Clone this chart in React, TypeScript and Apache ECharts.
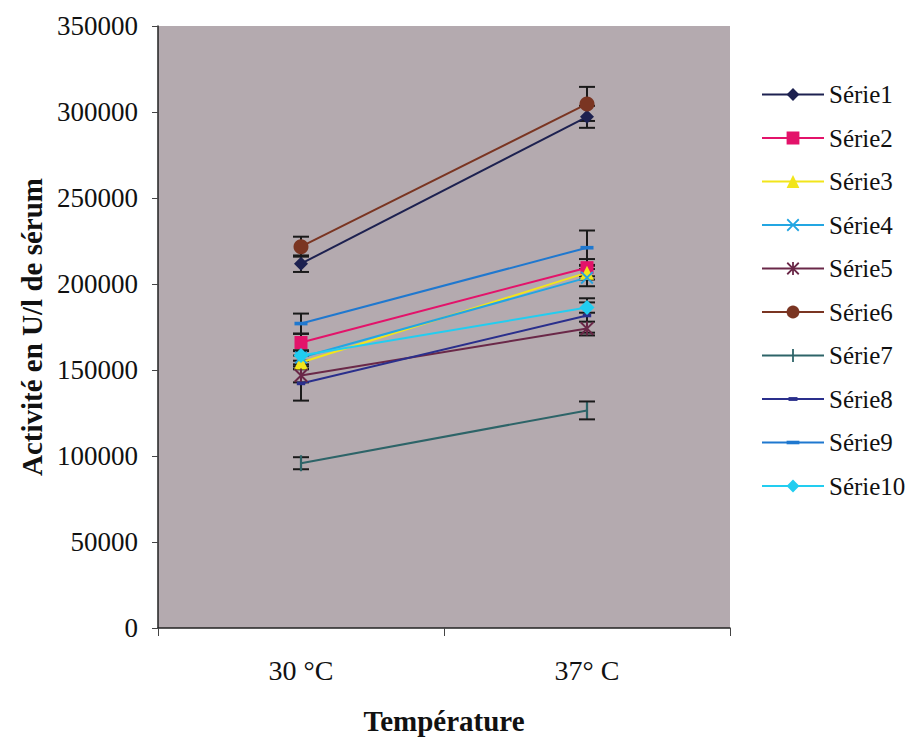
import React, { useEffect, useRef } from "react";
import * as echarts from "echarts";

const categories = ["30 °C", "37° C"];
const seriesNames = ["Série1", "Série2", "Série3", "Série4", "Série5", "Série6", "Série7", "Série8", "Série9", "Série10"];
const s1 = [211800, 297200];
const s2 = [166000, 209500];
const s3 = [154400, 206600];
const s4 = [157300, 203700];
const s5 = [146800, 174100];
const s6 = [221700, 304700];
const s7 = [95800, 126500];
const s8 = [142200, 181700];
const s9 = [177000, 221100];
const s10 = [158400, 186300];
const seriesValues = [s1, s2, s3, s4, s5, s6, s7, s8, s9, s10];
// error bar half-widths (±) at each temperature
const e1 = [4800, 6400];
const e2 = [5000, 5000];
const e3 = [4000, 4000];
const e4 = [4000, 5000];
const e5 = [4000, 4000];
const e6 = [5800, 9900];
const e7 = [3500, 5200];
const e8 = [10000, 10000];
const e9 = [5800, 10000];
const e10 = [3000, 3000];
const seriesErrors = [e1, e2, e3, e4, e5, e6, e7, e8, e9, e10];
const yTicks = { min: 0, max: 350000, interval: 50000 };

const colors = ["#1d2150", "#e3136a", "#f2e51b", "#23a6e2", "#6a2848", "#7a3522", "#2d6468", "#2a2f8c", "#1f78cf", "#22cdf0"];
const X_PATH = "path://M1,0 L5,4 L9,0 L10,1 L6,5 L10,9 L9,10 L5,6 L1,10 L0,9 L4,5 L0,1 Z";
const AST_PATH = "path://M1,0 L5,4 L9,0 L10,1 L6,5 L10,9 L9,10 L5,6 L1,10 L0,9 L4,5 L0,1 Z M4.3,0 L5.7,0 L5.7,10 L4.3,10 Z";
// square bounding boxes (via move-to points) so the mark keeps its shape in chart and legend
const VBAR_PATH = "path://M0,0 M10,10 M4.3,0 L5.7,0 L5.7,10 L4.3,10 Z";
const SHORT_DASH = "path://M0,0 M10,10 M1.5,3.5 L8.5,3.5 L8.5,6.5 L1.5,6.5 Z";
const LONG_DASH = "path://M0,0 M10,10 M0,3.6 L10,3.6 L10,6.4 L0,6.4 Z";
const symbols: any[] = ["diamond", "rect", "triangle", X_PATH, AST_PATH, "circle", VBAR_PATH, SHORT_DASH, LONG_DASH, "diamond"];
const symbolSizes: any[] = [14, 13, 14, 13, 14, 15, 16, 12, 13, 15];

const FONT = "Liberation Serif";

export default function App() {
  const ref = useRef<HTMLDivElement>(null);
  useEffect(() => {
    if (!ref.current) return;
    const chart = echarts.init(ref.current, undefined, { renderer: "svg" });

    const errData: any[] = [];
    seriesValues.forEach((vals, si) => {
      vals.forEach((v, ci) => {
        errData.push([ci, v - seriesErrors[si][ci], v + seriesErrors[si][ci]]);
      });
    });

    const lineSeries = seriesNames.map((name, i) => ({
      name,
      type: "line",
      data: seriesValues[i],
      symbol: symbols[i],
      symbolSize: symbolSizes[i],
      showSymbol: true,
      z: 3,
      lineStyle: { color: colors[i], width: 2 },
      itemStyle: { color: colors[i], borderWidth: 0 },
      emphasis: { disabled: true },
    }));

    chart.setOption({
      animation: false,
      backgroundColor: "#ffffff",
      grid: {
        left: 158,
        top: 26,
        right: 176,
        bottom: 114,
        show: true,
        backgroundColor: "#b4aaaf",
        borderWidth: 0,
      },
      legend: {
        data: seriesNames,
        orient: "vertical",
        left: 756,
        top: 77,
        itemWidth: 62,
        itemHeight: 16,
        itemGap: 18.5,
        textStyle: { fontFamily: FONT, fontSize: 25, color: "#111" },
        selectedMode: false,
      },
      xAxis: {
        type: "category",
        data: categories,
        boundaryGap: true,
        name: "Température",
        nameLocation: "middle",
        nameGap: 78,
        nameTextStyle: { fontFamily: FONT, fontSize: 29, fontWeight: "bold", color: "#111" },
        axisLine: { show: true, lineStyle: { color: "#222", width: 1.5 } },
        axisTick: { show: true, alignWithLabel: false, length: 8, lineStyle: { color: "#444" } },
        axisLabel: { fontFamily: FONT, fontSize: 28, color: "#111", margin: 28 },
        splitLine: { show: false },
      },
      yAxis: {
        type: "value",
        min: yTicks.min,
        max: yTicks.max,
        interval: yTicks.interval,
        name: "Activité en U/l de sérum",
        nameLocation: "middle",
        nameGap: 112,
        nameTextStyle: { fontFamily: FONT, fontSize: 29, fontWeight: "bold", color: "#111" },
        axisLine: { show: true, lineStyle: { color: "#222", width: 1.5 } },
        axisTick: { show: true, length: 6, lineStyle: { color: "#444" } },
        axisLabel: {
          fontFamily: FONT,
          fontSize: 27,
          color: "#111",
          margin: 20,
          formatter: (v: number) => String(v),
        },
        splitLine: { show: false },
      },
      series: [
        {
          name: "err",
          type: "custom",
          z: 2,
          silent: true,
          data: errData,
          renderItem: (params: any, api: any) => {
            const x = api.value(0);
            const lo = api.coord([x, api.value(1)]);
            const hi = api.coord([x, api.value(2)]);
            const w = 8;
            const style = { stroke: "#1a1a1a", lineWidth: 2 };
            return {
              type: "group",
              children: [
                { type: "line", shape: { x1: lo[0], y1: lo[1], x2: hi[0], y2: hi[1] }, style },
                { type: "line", shape: { x1: lo[0] - w, y1: lo[1], x2: lo[0] + w, y2: lo[1] }, style },
                { type: "line", shape: { x1: hi[0] - w, y1: hi[1], x2: hi[0] + w, y2: hi[1] }, style },
              ],
            };
          },
        },
        ...lineSeries,
      ],
    } as any);
    return () => chart.dispose();
  }, []);
  return <div ref={ref} style={{ position: "fixed", left: 0, top: 0, width: 906, height: 742 }} />;
}
